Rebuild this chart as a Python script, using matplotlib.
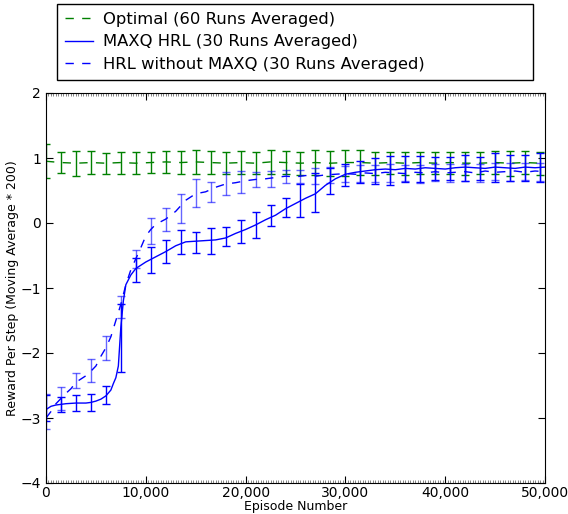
import numpy as np
import matplotlib
matplotlib.use("Agg")
import matplotlib.pyplot as plt
from matplotlib.ticker import FuncFormatter, MultipleLocator

# ---------------- data ----------------
bar_x = list(range(0, 50000, 1500))

opt_mean = [0.95, 0.93, 0.92, 0.93, 0.92, 0.93, 0.92, 0.93, 0.94, 0.93, 0.94, 0.93,
            0.92, 0.93, 0.92, 0.94, 0.93, 0.92, 0.93, 0.92, 0.93, 0.93, 0.92, 0.93,
            0.92, 0.93, 0.92, 0.93, 0.92, 0.92, 0.93, 0.92, 0.93, 0.92]
opt_err = [0.26, 0.16, 0.19, 0.18, 0.16, 0.17, 0.17, 0.16, 0.17, 0.18, 0.19, 0.18,
           0.17, 0.18, 0.17, 0.19, 0.18, 0.18, 0.19, 0.19, 0.2, 0.19, 0.18, 0.17,
           0.18, 0.17, 0.17, 0.17, 0.18, 0.17, 0.18, 0.19, 0.18, 0.18]

maxq_x = [0, 500, 1000, 1500, 2000, 3000, 4000, 4500, 5000, 5500, 6000, 6500, 6750,
          7000, 7250, 7500, 7750, 8000, 8500, 9000, 9500, 10000, 11000, 12000, 13000,
          14000, 15000, 16000, 17000, 18000, 19000, 20000, 21000, 22000, 23000, 24000,
          25000, 26000, 27000, 28000, 29000, 30000, 31000, 32000, 33000, 34000, 35000,
          36000, 37000, 38000, 39000, 40000, 41000, 42000, 43000, 44000, 45000, 46000,
          47000, 48000, 49000, 50000]
maxq_line = [-2.87, -2.82, -2.80, -2.79, -2.78, -2.77, -2.77, -2.76, -2.74, -2.71, -2.66,
             -2.57, -2.47, -2.38, -2.20, -1.60, -1.20, -0.95, -0.80, -0.70, -0.65, -0.60,
             -0.52, -0.44, -0.35, -0.29, -0.28, -0.27, -0.26, -0.23, -0.16, -0.10, -0.03,
             0.05, 0.12, 0.22, 0.30, 0.38, 0.45, 0.58, 0.68, 0.75, 0.78, 0.80, 0.82, 0.83,
             0.82, 0.84, 0.83, 0.85, 0.84, 0.83, 0.85, 0.86, 0.85, 0.84, 0.86, 0.85, 0.84,
             0.86, 0.85, 0.86]
maxq_mean = [-2.85, -2.79, -2.77, -2.76, -2.65, -1.77, -0.72, -0.57, -0.44, -0.29, -0.30,
             -0.27, -0.21, -0.13, -0.03, 0.11, 0.24, 0.35, 0.47, 0.65, 0.74, 0.79, 0.80,
             0.81, 0.83, 0.83, 0.84, 0.84, 0.85, 0.84, 0.85, 0.85, 0.84, 0.85]
maxq_err = [0.2, 0.12, 0.12, 0.13, 0.14, 0.52, 0.18, 0.2, 0.18, 0.18, 0.16, 0.2, 0.15,
            0.17, 0.2, 0.16, 0.15, 0.25, 0.3, 0.2, 0.17, 0.17, 0.2, 0.22, 0.2, 0.2, 0.18,
            0.18, 0.2, 0.18, 0.22, 0.2, 0.2, 0.22]

hrl_x = [0, 500, 1000, 1500, 2000, 2500, 3000, 4000, 4500, 5000, 5500, 6000, 6500, 7000,
         7500, 8000, 8500, 9000, 9500, 10000, 10500, 11000, 12000, 13000, 14000, 15000,
         16000, 17000, 18000, 19000, 20000, 21000, 22000, 23000, 24000, 25000, 26000,
         27000, 28000, 29000, 30000, 31000, 32000, 33000, 34000, 35000, 36000, 37000,
         38000, 39000, 40000, 41000, 42000, 43000, 44000, 45000, 46000, 47000, 48000,
         49000, 50000]
hrl_line = [-3.0, -2.9, -2.78, -2.7, -2.62, -2.55, -2.45, -2.35, -2.28, -2.2, -2.05, -1.92,
            -1.75, -1.5, -1.25, -0.95, -0.72, -0.55, -0.38, -0.2, -0.1, -0.02, 0.06, 0.18,
            0.35, 0.45, 0.48, 0.55, 0.6, 0.62, 0.65, 0.67, 0.68, 0.7, 0.72, 0.71, 0.73,
            0.72, 0.74, 0.75, 0.76, 0.75, 0.77, 0.76, 0.78, 0.77, 0.76, 0.78, 0.77, 0.79,
            0.77, 0.78, 0.79, 0.77, 0.8, 0.78, 0.79, 0.8, 0.78, 0.8, 0.79]
hrl_mean = [-2.9, -2.7, -2.42, -2.27, -1.92, -1.29, -0.55, -0.12, 0.05, 0.22, 0.46, 0.48,
            0.61, 0.63, 0.67, 0.68, 0.71, 0.72, 0.72, 0.74, 0.75, 0.76, 0.76, 0.77, 0.77,
            0.76, 0.78, 0.77, 0.78, 0.77, 0.79, 0.78, 0.79, 0.78]
hrl_err = [0.27, 0.17, 0.12, 0.18, 0.18, 0.17, 0.14, 0.2, 0.18, 0.22, 0.22, 0.15, 0.18,
           0.17, 0.12, 0.12, 0.1, 0.1, 0.12, 0.12, 0.12, 0.13, 0.13, 0.14, 0.13, 0.14,
           0.13, 0.14, 0.13, 0.14, 0.13, 0.14, 0.13, 0.14]

labels = ["Optimal (60 Runs Averaged)", "MAXQ HRL (30 Runs Averaged)",
          "HRL without MAXQ (30 Runs Averaged)"]

# ---------------- plot ----------------
plt.rcParams['font.family'] = ['DejaVu Sans']
fig = plt.figure(figsize=(5.68, 5.14), dpi=100)
ax = fig.add_axes([46/568, 31/514, 499/568, 390/514])

green = '#008000'
blue = '#0000ff'
dash = (0, (6, 6))

l1, = ax.plot(bar_x + [50000], opt_mean + [0.92], color=green, lw=1, linestyle=dash, label=labels[0])
ax.errorbar(bar_x, opt_mean, yerr=opt_err, fmt='none', ecolor=green, elinewidth=1,
            capsize=3, capthick=1)

l2, = ax.plot(maxq_x, maxq_line, color=blue, lw=1, linestyle='-', label=labels[1])
ax.errorbar(bar_x, maxq_mean, yerr=maxq_err, fmt='none', ecolor=blue, elinewidth=1,
            capsize=3, capthick=1)

l3, = ax.plot(hrl_x, hrl_line, color=blue, lw=1, linestyle=dash, label=labels[2])
ax.errorbar(bar_x, hrl_mean, yerr=hrl_err, fmt='none', ecolor=blue, elinewidth=1,
            capsize=3, capthick=1, alpha=0.6)

ax.set_xlim(0, 50000)
ax.set_ylim(-4, 2)
ax.xaxis.set_major_locator(MultipleLocator(10000))
ax.xaxis.set_minor_locator(MultipleLocator(250))
ax.yaxis.set_major_locator(MultipleLocator(1))
ax.xaxis.set_major_formatter(FuncFormatter(lambda v, p: f"{int(v):,}"))
ax.tick_params(which='major', direction='in', top=True, right=True, length=5,
               labelsize=10)
ax.tick_params(which='minor', axis='x', direction='in', top=True, bottom=True,
               length=2, width=0.5, color='#555555')
ax.tick_params(axis='x', pad=2)
ax.set_xlabel("Episode Number", fontsize=9, labelpad=0)
ax.set_ylabel("Reward Per Step (Moving Average * 200)", fontsize=9, labelpad=1)

leg = fig.legend(handles=[l1, l2, l3], labels=labels, loc='lower left',
                 bbox_to_anchor=(57/568, 1 - 80/514, 476/568, 75/514),
                 mode='expand', borderaxespad=0, fontsize=11.8, fancybox=False,
                 framealpha=1, edgecolor='black', handlelength=1.7,
                 labelspacing=0.45, handletextpad=0.6, borderpad=0.5)
leg.get_frame().set_linewidth(1)

fig.savefig("out.png", dpi=100)
